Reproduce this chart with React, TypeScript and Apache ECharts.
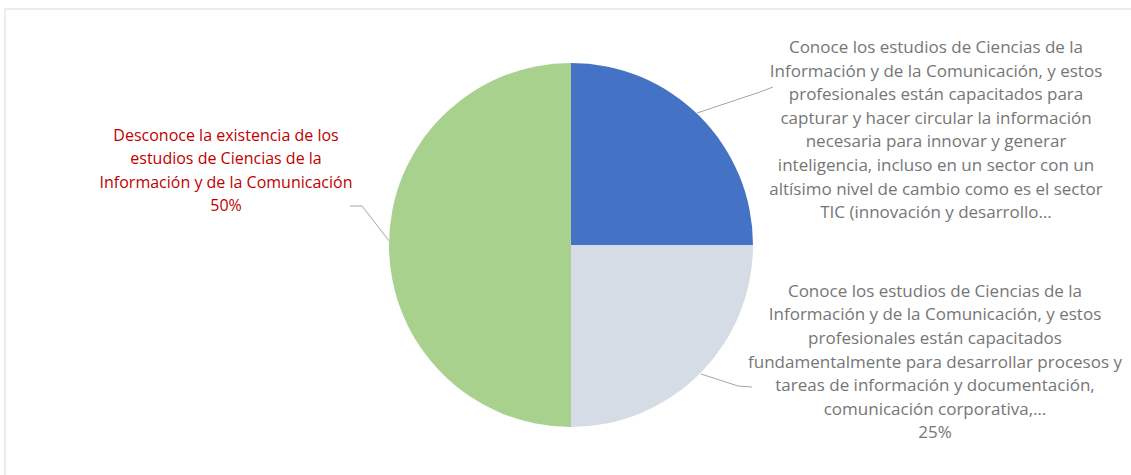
import React, { useEffect, useRef } from "react";
import * as echarts from "echarts";

const categories = [
  "Conoce los estudios de Ciencias de la\nInformación y de la Comunicación, y estos\nprofesionales están capacitados para\ncapturar y hacer circular la información\nnecesaria para innovar y generar\ninteligencia, incluso en un sector con un\naltísimo nivel de cambio como es el sector\nTIC (innovación y desarrollo…",
  "Conoce los estudios de Ciencias de la\nInformación y de la Comunicación, y estos\nprofesionales están capacitados\nfundamentalmente para desarrollar procesos y\ntareas de información y documentación,\ncomunicación corporativa,…",
  "Desconoce la existencia de los\nestudios de Ciencias de la\nInformación y de la Comunicación",
];
const values = [25, 25, 50];
const showPercent = [false, true, true];
const colors = ["#4472C4", "#D6DCE5", "#A9D18E"];
const labelColors = ["#767676", "#767676", "#C00000"];

export default function App() {
  const ref = useRef<HTMLDivElement>(null);
  useEffect(() => {
    if (!ref.current) return;
    const chart = echarts.init(ref.current, undefined, { renderer: "svg" });
    const labelPos = [
      { x: 936, y: 129, lh: 23.6, fs: 17, line: [[697, 113], [760, 92], [773, 87]] },
      { x: 935, y: 361, lh: 23.6, fs: 17, line: [[701, 374], [738, 386], [752, 387]] },
      { x: 226, y: 170, lh: 23.5, fs: 16, line: [[390, 242], [362, 206], [350, 206]] },
    ];
    chart.setOption({
      animation: false,
      backgroundColor: "#ffffff",
      graphic: [
        {
          type: "rect",
          shape: { x: 5, y: 9, width: 1140, height: 480 },
          style: { fill: "none", stroke: "#d9d9d9", lineWidth: 1 },
          silent: true,
        },
      ],
      series: [
        {
          type: "pie",
          center: [571, 245],
          radius: [0, 182],
          startAngle: 90,
          clockwise: true,
          silent: true,
          itemStyle: { borderColor: "#ffffff", borderWidth: 0 },
          data: categories.map((name, i) => ({
            name,
            value: values[i],
            itemStyle: { color: colors[i] },
            label: {
              color: labelColors[i],
              lineHeight: labelPos[i].lh,
              fontSize: labelPos[i].fs,
            },
          })),
          label: {
            show: true,
            position: "outside",
            fontFamily: "Open Sans",
            fontSize: 16,
            align: "center",
            formatter: (p: any) =>
              showPercent[p.dataIndex] ? `${p.name}\n${Math.round(p.percent)}%` : p.name,
          },
          labelLine: {
            show: true,
            lineStyle: { color: "#a6a6a6", width: 1 },
          },
          labelLayout: (params: any) => {
            const lp = labelPos[params.dataIndex];
            return {
              x: lp.x,
              y: lp.y,
              align: "center",
              verticalAlign: "middle",
              labelLinePoints: lp.line,
            };
          },
        },
      ],
    });
    return () => chart.dispose();
  }, []);
  return (
    <div
      ref={ref}
      style={{ position: "fixed", left: 0, top: 0, width: 1131, height: 475 }}
    />
  );
}
